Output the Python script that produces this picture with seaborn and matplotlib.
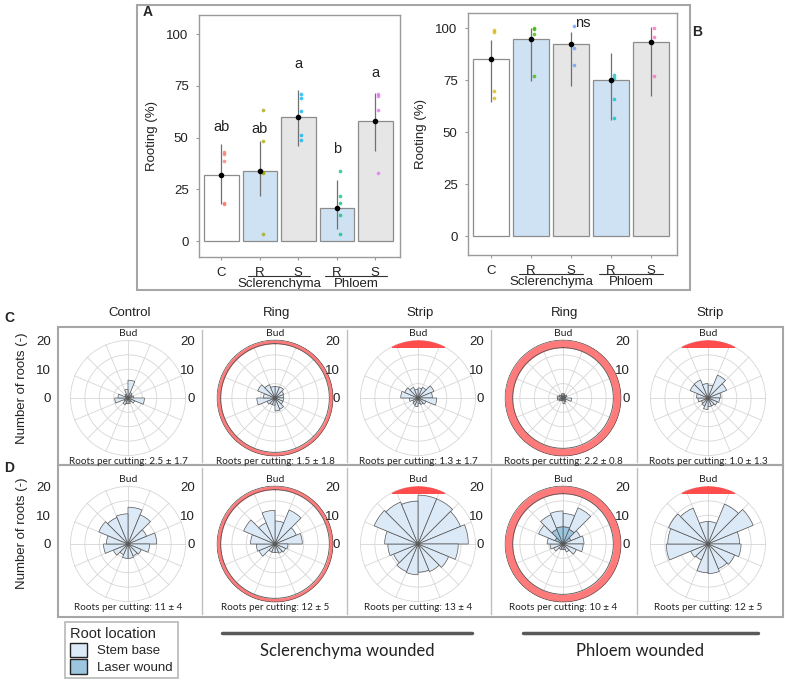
import matplotlib
matplotlib.use('Agg')
import matplotlib.pyplot as plt
import numpy as np
import pandas as pd
import seaborn as sns
from matplotlib.patches import Rectangle, Patch
from matplotlib.lines import Line2D
from matplotlib.transforms import blended_transform_factory

# ---- panel A / B data ----
groups = ['C', 'R_scl', 'S_scl', 'R_phl', 'S_phl']
tick_names = ['C', 'R', 'S', 'R', 'S']
bar_fill = ['white', '#CFE2F3', '#E6E6E6', '#CFE2F3', '#E6E6E6']

a_mean = [32, 34, 60, 16, 58]
a_lo = [18, 22, 46, 6, 43.5]
a_hi = [47, 48.5, 73, 29.5, 71.5]
a_points = [[43, 42, 38.5, 18, 18.3], [63.5, 48.5, 33.5, 33, 3.5],
            [71, 69, 63, 51.5, 49], [34, 22, 18.5, 12.5, 3.5], [71, 70.3, 63.5, 33]]
a_letters = ['ab', 'ab', 'a', 'b', 'a']
a_letter_y = [52, 51, 82, 41, 78]
a_dot_colors = ['#F8766D', '#A3A500', '#00B0F6', '#00BF7D', '#E76BF3']

b_mean = [85, 94.7, 92.6, 75, 93.5]
b_lo = [64.5, 74.5, 72.3, 56, 67.5]
b_hi = [94.5, 100, 98, 88, 100.5]
b_points = [[99, 98, 70, 66.5], [100, 99.7, 97, 76.8], [101, 90.7, 82.5],
            [77.5, 76, 66, 57], [100, 96, 77]]
b_dot_colors = ['#D8B400', '#39B600', '#619CFF', '#00BFC4', '#FF62BC']

# ---- panel C / D data: roots per 22.5 deg sector, clockwise from the bud ----
c_control = [6.2, 2, 1.5, 2, 5.7, 2.5, 1.5, 2, 2, 2.5, 1.5, 4.6, 3.5, 1, 1.5, 3]
c_ring_scl = [4, 4.2, 3.3, 3, 3, 3, 4.2, 4.5, 2.5, 2.5, 3, 6.3, 4, 6.5, 5, 4]
c_strip_scl = [3.5, 4, 6, 5, 6.5, 3, 2.5, 2, 3, 2.5, 2, 3, 6, 5, 4, 3]
c_ring_phl = [1.5, 1, 1.5, 1, 3, 1, 1.5, 2, 1, 1, 1.5, 2, 2, 1.5, 1, 1.5]
c_strip_phl = [4.5, 8.6, 7, 4.5, 4, 3.5, 3, 3, 4, 3, 2.5, 3.5, 4, 6.7, 6.8, 5]

d_control = [12.8, 11, 7, 10, 7.5, 5, 4.5, 5, 5, 4, 5.5, 8.5, 7.5, 11, 10, 10.5]
d_ring_scl = [8, 12.8, 8, 9.5, 4.5, 4, 3.5, 3, 3, 3, 6, 6.5, 8.5, 11.8, 8, 11.7]
d_strip_scl = [17, 17, 16, 17.5, 14, 11.5, 10.4, 9.8, 10.7, 10.4, 9.2, 10.5, 11.6, 16.5, 15.8, 14.9]
d_ring_phl = [10.6, 13.6, 6.5, 7.3, 7, 5, 3, 2, 2, 2, 3.5, 4.5, 5.5, 9.2, 11, 11.5]
d_ring_phl_laser = [6, 5.5, 3, 1, 0.5, 0, 0, 0, 0, 0, 0, 0.5, 1, 3, 5.5, 6]
d_strip_phl = [7.8, 15, 17, 11, 11.5, 10, 9.3, 10.3, 10, 6, 6.5, 14.5, 14, 14.8, 13.5, 7.8]

col_titles = ['Control', 'Ring', 'Strip', 'Ring', 'Strip']
wound = ['none', 'ring_thin', 'strip', 'ring_thick', 'strip']
c_rows = [c_control, c_ring_scl, c_strip_scl, c_ring_phl, c_strip_phl]
d_rows = [d_control, d_ring_scl, d_strip_scl, d_ring_phl, d_strip_phl]
c_notes = ['2.5 ± 1.7', '1.5 ± 1.8', '1.3 ± 1.7', '2.2 ± 0.8', '1.0 ± 1.3']
d_notes = ['11 ± 4', '12 ± 5', '13 ± 4', '10 ± 4', '12 ± 5']

STEM = '#DCE9F6'
LASER = '#9CC6E0'
WOUND_RED = '#FF7B7B'

W, H = 785, 683
fig = plt.figure(figsize=(W / 100, H / 100), dpi=100)
sns.set_style('white')
plt.rcParams['font.family'] = ['Liberation Sans', 'DejaVu Sans']


def rect(x0, y0, x1, y1):
    return [x0 / W, 1 - y1 / H, (x1 - x0) / W, (y1 - y0) / H]


def ftext(x, y, s, **kw):
    fig.text(x / W, 1 - y / H, s, **kw)


def frame(x0, y0, x1, y1, color='#A6A6A6', lw=1.5):
    fig.add_artist(Rectangle((x0 / W, 1 - y1 / H), (x1 - x0) / W, (y1 - y0) / H,
                             transform=fig.transFigure, fill=False,
                             edgecolor=color, linewidth=lw))


def bar_panel(box, ylim, xlim, means, lo, hi, points, dot_colors):
    ax = fig.add_axes(rect(*box))
    df = pd.DataFrame({'group': groups, 'value': means})
    sns.barplot(data=df, x='group', y='value', hue='group', palette=bar_fill,
                edgecolor='#8C8C8C', linewidth=0.9, width=0.9, legend=False,
                saturation=1, ax=ax)
    pos = np.arange(len(groups))
    ax.vlines(pos, lo, hi, color='#707070', linewidth=0.9, zorder=3)
    for i, pts in enumerate(points):
        ax.scatter(np.full(len(pts), i + 0.07), pts, s=7, color=dot_colors[i],
                   alpha=0.75, linewidths=0, zorder=4)
    ax.scatter(pos, means, s=9, color='black', zorder=5)
    ax.set_xlim(*xlim)
    ax.set_ylim(*ylim)
    ax.set_yticks([0, 25, 50, 75, 100])
    ax.set_xticks(pos)
    ax.set_xticklabels(tick_names)
    ax.set_xlabel('')
    ax.set_ylabel('Rooting (%)', fontsize=9.5, color='#222222', labelpad=6)
    ax.tick_params(axis='both', labelsize=9.5, length=2.5, color='#9A9A9A',
                   labelcolor='#222222', pad=5, left=True, bottom=True)
    for s in ax.spines.values():
        s.set_color('#9A9A9A')
        s.set_linewidth(1)
    trans = blended_transform_factory(ax.transData, ax.transAxes)
    for (a, b), name in zip([(1, 2), (3, 4)], ['Sclerenchyma', 'Phloem']):
        ax.add_line(Line2D([a - 0.3, b + 0.3], [-0.078, -0.078], transform=trans,
                           color='#333333', linewidth=0.8, clip_on=False))
        ax.text((a + b) / 2, -0.112, name, transform=trans, ha='center',
                va='center', fontsize=9.5, color='#222222')
    return ax


# ---- top section ----
frame(137, 5, 690, 290)
ax_a = bar_panel((199, 15, 400, 257), (-7.7, 109.3), (-0.58, 4.64),
                 a_mean, a_lo, a_hi, a_points, a_dot_colors)
for i, (lab, y) in enumerate(zip(a_letters, a_letter_y)):
    ax_a.text(i, y, lab, ha='center', va='bottom', fontsize=10.5, color='#222222')
ax_b = bar_panel((468, 13, 677, 255), (-9, 107.3), (-0.575, 4.65),
                 b_mean, b_lo, b_hi, b_points, b_dot_colors)
ax_b.text(2.3, 99, 'ns', ha='center', va='bottom', fontsize=10.5, color='#222222')
ftext(148, 12, 'A', fontsize=10, fontweight='bold', ha='center', va='center')
ftext(697, 32, 'B', fontsize=10, fontweight='bold', ha='center', va='center')

# ---- polar section ----
centers_x = [128, 275, 418, 563, 708]
sep_x = [58, 202, 347, 491, 637]
row_cy = [398, 544]
row_box = [(327, 465), (465, 617)]
PX = 2.875          # pixels per root
RMAX = 20.3
theta_c = np.deg2rad(np.arange(16) * 22.5 + 11.25)
width = np.deg2rad(22.5)

for c, t in zip(centers_x, col_titles):
    ftext(c + 2, 313, t, fontsize=9.5, ha='center', va='center', color='#222222')

for r, (cy, (top, bot)) in enumerate(zip(row_cy, row_box)):
    frame(58, top, 783, bot)
    rows = c_rows if r == 0 else d_rows
    notes = c_notes if r == 0 else d_notes
    for k in range(5):
        cx = centers_x[k]
        half = PX * RMAX
        ax = fig.add_axes(rect(cx - half, cy - half, cx + half, cy + half),
                          projection='polar')
        ax.set_theta_zero_location('N')
        ax.set_theta_direction(-1)
        ax.set_ylim(0, RMAX)
        ax.set_thetagrids(np.arange(0, 360, 22.5), labels=[])
        ax.set_rgrids([5, 10, 15, 20], labels=[])
        ax.grid(color='#D6D6D6', linewidth=0.6)
        ax.spines['polar'].set_visible(False)
        ax.set_facecolor('none')
        th = np.linspace(0, 2 * np.pi, 400)
        if wound[k] in ('ring_thin', 'ring_thick'):
            inner = 18.9 if wound[k] == 'ring_thin' else 17.5
            ax.fill_between(th, inner, 20.2, color=WOUND_RED, linewidth=0, zorder=1)
            ax.plot(th, np.full_like(th, inner), color='#555555', lw=0.6, zorder=1)
            ax.plot(th, np.full_like(th, 20.2), color='#555555', lw=0.6, zorder=1)
        elif wound[k] == 'strip':
            half_ang = np.deg2rad(28)
            ta = np.linspace(-half_ang, half_ang, 100)
            chord = 20.2 * np.cos(half_ang) / np.cos(ta)
            ax.fill_between(ta, chord, 20.2, color='#FF4D4D', linewidth=0, zorder=1)
        vals = np.array(rows[k], dtype=float)
        if r == 1 and k == 3:
            laser = np.array(d_ring_phl_laser)
            ax.bar(theta_c, laser, width=width, color=LASER, edgecolor='#555555',
                   linewidth=0.5, zorder=2)
            ax.bar(theta_c, vals - laser, bottom=laser, width=width, color=STEM,
                   edgecolor='#555555', linewidth=0.5, zorder=2)
        else:
            ax.bar(theta_c, vals, width=width, color=STEM, edgecolor='#555555',
                   linewidth=0.5, zorder=2)
        ftext(cx, cy - 64, 'Bud', fontsize=7.5, ha='center', va='center',
              family='Lato', color='#222222')
        ftext(cx, cy + 64, 'Roots per cutting: ' + notes[k], fontsize=7.1,
              ha='center', va='center', family='Lato', color='#222222')
        # linear radial scale on the left separator
        sx = sep_x[k]
        y_top, y_bot = top + 3, bot - 3
        sax = fig.add_axes(rect(sx, y_top, sx + 2, y_bot))
        sax.set_ylim((cy - y_bot) / PX, (cy - y_top) / PX)
        sax.set_yticks([0, 10, 20])
        sax.set_xticks([])
        sax.patch.set_alpha(0)
        for side in ('right', 'top', 'bottom'):
            sax.spines[side].set_visible(False)
        sax.spines['left'].set_color('#BFBFBF' if k else '#A6A6A6')
        sax.spines['left'].set_linewidth(1 if k else 0)
        sax.tick_params(axis='y', labelsize=9.5, length=3, color='#BFBFBF',
                        labelcolor='#222222', pad=2)
    ftext(22, (top + bot) / 2 - 8, 'Number of roots (-)', rotation=90,
          fontsize=9.5, ha='center', va='center', color='#222222')

ftext(9, 318, 'C', fontsize=10, fontweight='bold', ha='center', va='center')
ftext(9, 468, 'D', fontsize=10, fontweight='bold', ha='center', va='center')

# ---- legend and wound-type labels ----
handles = [Patch(facecolor=STEM, edgecolor='#222222', label='Stem base'),
           Patch(facecolor=LASER, edgecolor='#222222', label='Laser wound')]
leg = fig.legend(handles=handles, title='Root location', loc='upper left',
                 bbox_to_anchor=(65 / W, 1 - 622 / H), borderaxespad=0,
                 fontsize=9.5, title_fontsize=10.5, alignment='left',
                 fancybox=False, edgecolor='#A6A6A6', handlelength=1.3,
                 handleheight=1.3, handletextpad=0.8, labelspacing=0.15,
                 borderpad=0.35)
leg.get_frame().set_linewidth(1.2)

for (x0, x1), name in zip([(222, 472), (523, 758)],
                          ['Sclerenchyma wounded', 'Phloem wounded']):
    fig.add_artist(Line2D([x0 / W, x1 / W], [1 - 633 / H] * 2,
                          transform=fig.transFigure, color='#595959', lw=2.5))
    ftext((x0 + x1) / 2, 651, name, fontsize=12, ha='center', va='center',
          family='Lato', color='#222222')

fig.savefig('out.png', dpi=100)
